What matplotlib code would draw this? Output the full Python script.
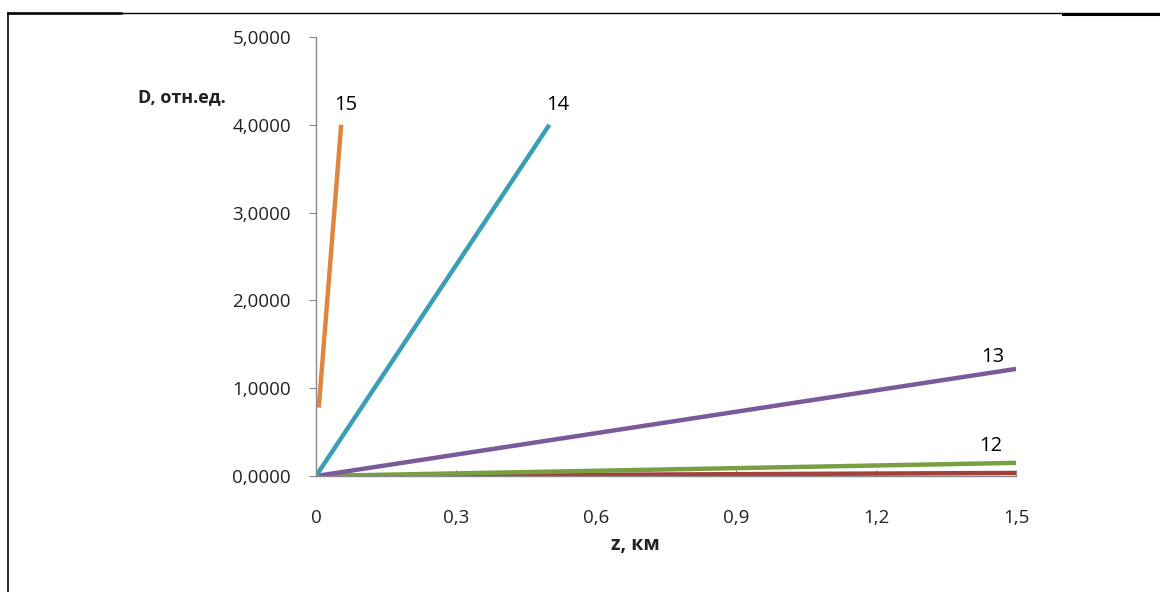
import matplotlib.pyplot as plt
from matplotlib.lines import Line2D

plt.rcParams['font.family'] = ['Open Sans', 'DejaVu Sans']

# curves: z, km -> D, rel. units
z15 = [0.006, 0.054]
d15 = [0.78, 4.0]
z14 = [0.0, 0.5]
d14 = [0.0, 4.0]
z13 = [0.0, 1.5]
d13 = [0.0, 1.22]
z12 = [0.0, 1.5]
d12 = [0.0, 0.15]
z11 = [0.0, 1.5]
d11 = [0.0, 0.035]

x_ticks = [0, 0.3, 0.6, 0.9, 1.2, 1.5]
x_labels = ["0", "0,3", "0,6", "0,9", "1,2", "1,5"]
y_ticks = [0, 1, 2, 3, 4, 5]
y_labels = ["0,0000", "1,0000", "2,0000", "3,0000", "4,0000", "5,0000"]


def main():
    fig = plt.figure(figsize=(11.6, 5.92), dpi=100)
    ax = fig.add_axes([0.2724, 0.1959, 0.6035, 0.7416])

    ax.plot(z11, d11, color="#a3403c", lw=3.2, solid_capstyle="butt")
    ax.plot(z12, d12, color="#78a042", lw=3.2, solid_capstyle="butt")
    ax.plot(z13, d13, color="#7b5a9c", lw=3.2, solid_capstyle="butt")
    ax.plot(z14, d14, color="#3a9fb5", lw=3.2, solid_capstyle="butt")
    ax.plot(z15, d15, color="#e0853f", lw=3.2, solid_capstyle="butt")

    ax.text(0.04, 4.22, "15", fontsize=14.5, va="center", ha="left")
    ax.text(0.493, 4.22, "14", fontsize=14.5, va="center", ha="left")
    ax.text(1.425, 1.36, "13", fontsize=14.5, va="center", ha="left")
    ax.text(1.42, 0.34, "12", fontsize=14.5, va="center", ha="left")

    ax.set_xlim(0, 1.5)
    ax.set_ylim(0, 5)
    ax.set_xticks(x_ticks)
    ax.set_xticklabels(x_labels)
    ax.set_yticks(y_ticks)
    ax.set_yticklabels(y_labels)
    ax.tick_params(axis="y", direction="out", length=5, color="#888888",
                   labelsize=13.5, pad=13, labelcolor="#222222")
    ax.tick_params(axis="x", direction="in", length=4, color="#888888",
                   labelsize=13.5, pad=24, labelcolor="#222222")

    for side in ["top", "right"]:
        ax.spines[side].set_visible(False)
    for side in ["left", "bottom"]:
        ax.spines[side].set_color("#888888")
        ax.spines[side].set_linewidth(1)

    fig.text(0.119, 0.836, "D, отн.ед.", fontsize=13, fontweight="bold",
             va="center", ha="left", color="#222222")
    fig.text(0.548, 0.079, "z, км", fontsize=14, fontweight="bold",
             va="center", ha="center", color="#222222")

    # page frame
    fig.add_artist(Line2D([0.007, 0.007], [0.0, 0.978], color="black", lw=1.2))
    fig.add_artist(Line2D([0.007, 1.0], [0.978, 0.978], color="black", lw=1.0))
    fig.add_artist(Line2D([0.007, 0.104], [0.978, 0.978], color="black", lw=1.8))
    fig.add_artist(Line2D([0.916, 1.0], [0.977, 0.977], color="black", lw=2.2))

    fig.savefig("out.png", dpi=100)


if __name__ == "__main__":
    main()
